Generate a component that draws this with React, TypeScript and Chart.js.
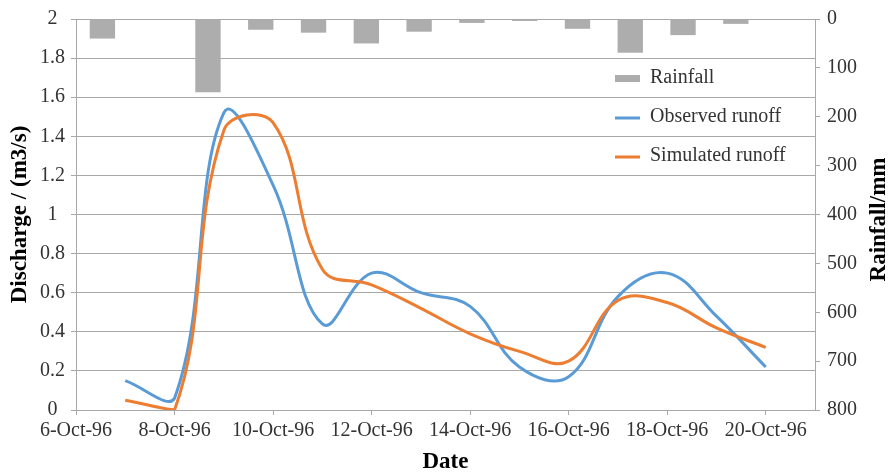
import { useEffect, useRef } from 'react';
import { Chart, registerables } from 'chart.js';

Chart.register(...registerables);

// ---- data ----
const dayNumbers = [7, 8, 9, 10, 11, 12, 13, 14, 15, 16, 17, 18, 19, 20];
const rainDates = ['7-Oct-96', '8-Oct-96', '9-Oct-96', '10-Oct-96', '11-Oct-96', '12-Oct-96', '13-Oct-96', '14-Oct-96', '15-Oct-96', '16-Oct-96', '17-Oct-96', '18-Oct-96', '19-Oct-96', '20-Oct-96'];
const observedRunoff = [0.15, 0.06, 1.52, 1.15, 0.44, 0.70, 0.60, 0.53, 0.22, 0.17, 0.58, 0.70, 0.48, 0.22];
const simulatedRunoff = [0.05, 0.0, 1.43, 1.47, 0.72, 0.64, 0.52, 0.39, 0.30, 0.25, 0.56, 0.55, 0.42, 0.32];
const rainfall = [40, 0, 150, 22, 28, 50, 26, 8, 4, 20, 69, 33, 10, 0];
const tickDays = [6, 8, 10, 12, 14, 16, 18, 20];
const tickLabels = ['6-Oct-96', '8-Oct-96', '10-Oct-96', '12-Oct-96', '14-Oct-96', '16-Oct-96', '18-Oct-96', '20-Oct-96'];
const legendLabels = ['Rainfall', 'Observed runoff', 'Simulated runoff'];

const FAMILY = "'Liberation Serif', 'Times New Roman', serif";
const BLUE = '#5B9BD5';
const ORANGE = '#ED7D31';
const GRAY_BAR = '#ADADAD';
const GRID = '#A8A8A8';
const TICK_COLOR = '#333333';

const overlayPlugin = {
  id: 'overlay',
  afterDraw(chart: any) {
    const { ctx, chartArea } = chart;
    ctx.save();
    const colors = [GRAY_BAR, BLUE, ORANGE];
    const x0 = chartArea.right - 200;
    const y0 = chartArea.top + 59;
    const rowH = 39;
    ctx.font = `20px ${FAMILY}`;
    ctx.textBaseline = 'middle';
    ctx.textAlign = 'left';
    legendLabels.forEach((label, i) => {
      const y = y0 + i * rowH;
      if (i === 0) {
        ctx.fillStyle = colors[i];
        ctx.fillRect(x0, y - 3, 25, 7);
      } else {
        ctx.strokeStyle = colors[i];
        ctx.lineWidth = 3;
        ctx.beginPath();
        ctx.moveTo(x0, y + 1);
        ctx.lineTo(x0 + 25, y + 1);
        ctx.stroke();
      }
      ctx.fillStyle = TICK_COLOR;
      ctx.fillText(label, x0 + 35, y);
    });
    // right axis title, reading bottom-to-top
    ctx.translate(chart.width - 12, (chartArea.top + chartArea.bottom) / 2 + 5);
    ctx.rotate(-Math.PI / 2);
    ctx.font = `bold 23px ${FAMILY}`;
    ctx.fillStyle = '#000';
    ctx.textAlign = 'center';
    ctx.fillText('Rainfall/mm', 0, 0);
    ctx.restore();
  },
};

export default function App() {
  const ref = useRef<HTMLCanvasElement | null>(null);

  useEffect(() => {
    if (!ref.current) return;
    const tickFont = { family: FAMILY, size: 20 };
    const titleFont = { family: FAMILY, size: 23, weight: 'bold' as const };
    const chart = new Chart(ref.current, {
      type: 'line',
      data: {
        datasets: [
          {
            type: 'bar',
            label: legendLabels[0],
            data: rainfall,
            xAxisID: 'x2',
            yAxisID: 'y1',
            backgroundColor: GRAY_BAR,
            grouped: false,
            barPercentage: 0.48,
            categoryPercentage: 1,
            order: 3,
          } as any,
          {
            type: 'line',
            label: legendLabels[1],
            data: dayNumbers.map((d, i) => ({ x: d, y: observedRunoff[i] })),
            xAxisID: 'x',
            yAxisID: 'y',
            borderColor: BLUE,
            borderWidth: 3,
            pointRadius: 0,
            tension: 0.4,
            fill: false,
            order: 2,
          },
          {
            type: 'line',
            label: legendLabels[2],
            data: dayNumbers.map((d, i) => ({ x: d, y: simulatedRunoff[i] })),
            xAxisID: 'x',
            yAxisID: 'y',
            borderColor: ORANGE,
            borderWidth: 3,
            pointRadius: 0,
            tension: 0.4,
            fill: false,
            order: 1,
          },
        ],
      },
      options: {
        responsive: false,
        animation: false,
        layout: { padding: { top: 18, left: 0, right: 0, bottom: 0 } },
        plugins: { legend: { display: false }, tooltip: { enabled: false } },
        scales: {
          x: {
            type: 'linear',
            position: 'bottom',
            min: 6,
            max: 21,
            afterBuildTicks: (s: any) => {
              s.ticks = tickDays.map((v) => ({ value: v }));
            },
            afterFit: (s: any) => {
              s.height = 66;
            },
            ticks: {
              callback: (v: any) => tickLabels[tickDays.indexOf(Number(v))] ?? '',
              font: tickFont,
              color: TICK_COLOR,
              padding: 4,
              maxRotation: 0,
              autoSkip: false,
            },
            grid: { drawOnChartArea: false, tickLength: 5, color: GRID },
            border: { color: GRID },
            title: { display: true, text: 'Date', font: titleFont, color: '#000', padding: { top: 0, bottom: 0 } },
          },
          x2: {
            type: 'category',
            labels: rainDates,
            offset: true,
            display: false,
          },
          y: {
            position: 'left',
            min: 0,
            max: 2,
            afterFit: (s: any) => {
              s.width = 76;
            },
            ticks: {
              stepSize: 0.2,
              callback: (v: any) => String(Number(Number(v).toFixed(1))),
              font: tickFont,
              color: TICK_COLOR,
              crossAlign: 'center',
              padding: 6,
            },
            grid: { color: GRID, tickLength: 5 },
            border: { color: GRID },
            title: { display: true, text: 'Discharge / (m3/s)', font: titleFont, color: '#000', padding: { top: 6, bottom: 6 } },
          },
          y1: {
            position: 'right',
            reverse: true,
            min: 0,
            max: 800,
            afterFit: (s: any) => {
              s.width = 76;
            },
            ticks: { stepSize: 100, font: tickFont, color: TICK_COLOR, padding: 7 },
            grid: { drawOnChartArea: false, tickLength: 5, color: GRID },
            border: { color: GRID },
          },
        },
      } as any,
      plugins: [overlayPlugin],
    });
    return () => chart.destroy();
  }, []);

  return (
    <div style={{ position: 'fixed', left: 0, top: 0, width: 891, height: 476, background: '#fff' }}>
      <canvas ref={ref} width={891} height={476} style={{ display: 'block' }} />
    </div>
  );
}
